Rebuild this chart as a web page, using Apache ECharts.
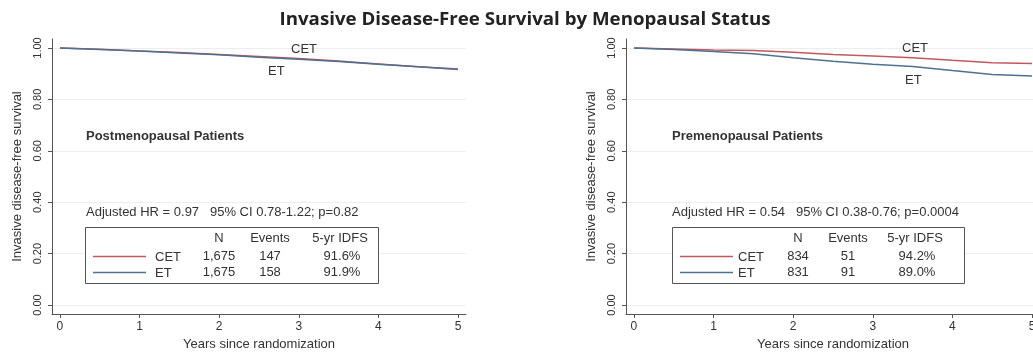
<!DOCTYPE html>
<html><head><meta charset="utf-8">
<script src="https://cdn.jsdelivr.net/npm/echarts@6/dist/echarts.min.js"></script>
<style>html,body{margin:0;padding:0;background:#fff}#c{width:1033px;height:352px}</style>
</head><body><div id="c"></div>
<script>
// ---- data ----
const titleText = 'Invasive Disease-Free Survival by Menopausal Status';
const years = [0, 0.5, 1, 1.5, 2, 2.5, 3, 3.5, 4, 4.5, 5];
const postCET = [1.000, 0.995, 0.988, 0.982, 0.975, 0.967, 0.959, 0.949, 0.938, 0.927, 0.916];
const postET  = [1.000, 0.994, 0.988, 0.981, 0.974, 0.964, 0.956, 0.947, 0.937, 0.927, 0.918];
const preCET  = [1.000, 0.996, 0.992, 0.990, 0.983, 0.975, 0.969, 0.962, 0.952, 0.943, 0.940];
const preET   = [1.000, 0.994, 0.986, 0.978, 0.962, 0.948, 0.937, 0.928, 0.912, 0.897, 0.891];
const xTicks = [0, 1, 2, 3, 4, 5];
const yTicks = [0, 0.2, 0.4, 0.6, 0.8, 1.0];
const groups = ['CET', 'ET'];
const colHeads = ['N', 'Events', '5-yr IDFS'];
const postN = ['1,675', '1,675'];
const postEvents = ['147', '158'];
const postIDFS = ['91.6%', '91.9%'];
const preN = ['834', '831'];
const preEvents = ['51', '91'];
const preIDFS = ['94.2%', '89.0%'];
const postLabel = 'Postmenopausal Patients';
const preLabel = 'Premenopausal Patients';
const postHR = 'Adjusted HR = 0.97   95% CI 0.78-1.22; p=0.82';
const preHR = 'Adjusted HR = 0.54   95% CI 0.38-0.76; p=0.0004';
const xName = 'Years since randomization';
const yName = 'Invasive disease-free survival';

// ---- styles ----
const FONT = '"Liberation Sans", Arial, sans-serif';
const TXT = '#333';
const CET_COLOR = '#c2585f';
const ET_COLOR = '#4e718e';

const chart = echarts.init(document.getElementById('c'), null, {renderer: 'canvas'});

function xAxis(i, min, max) {
  return {
    type: 'value', gridIndex: i, min, max,
    name: xName, nameLocation: 'middle', nameGap: 21,
    nameTextStyle: {fontFamily: FONT, fontSize: 13, color: TXT},
    axisLine: {show: true, onZero: false, lineStyle: {color: '#555', width: 1}},
    axisTick: {show: true, length: 4, lineStyle: {color: '#555'}, customValues: xTicks},
    axisLabel: {fontFamily: FONT, fontSize: 12, color: TXT, margin: 7, customValues: xTicks,
      showMaxLabel: true, formatter: v => String(Math.round(v))},
    splitLine: {show: false}
  };
}
function yAxis(i) {
  return {
    type: 'value', gridIndex: i, min: -0.035, max: 1.035,
    name: yName, nameLocation: 'middle', nameGap: 28, nameRotate: 90,
    nameTextStyle: {fontFamily: FONT, fontSize: 13, color: TXT},
    axisLine: {show: true, onZero: false, lineStyle: {color: '#555', width: 1}},
    axisTick: {show: true, length: 4, lineStyle: {color: '#555'}, customValues: yTicks},
    axisLabel: {fontFamily: FONT, fontSize: 11, color: TXT, margin: 9, rotate: 90, customValues: yTicks,
      formatter: v => v.toFixed(2)},
    splitLine: {show: true, lineStyle: {color: '#ededed', width: 1}}
  };
}
function line(name, data, xi, color) {
  return {
    type: 'line', name, xAxisIndex: xi, yAxisIndex: xi, showSymbol: false, symbol: 'none',
    data: years.map((x, k) => [x, data[k]]),
    lineStyle: {color, width: 1.5}, itemStyle: {color}, silent: true, z: 3
  };
}

function text(x, y, str, opt) {
  return {
    type: 'text', x, y, z: 20,
    style: Object.assign({text: str, fill: TXT, font: '13px ' + FONT, textVerticalAlign: 'middle'}, opt || {})
  };
}

function panelGraphics(p) {
  const g = [];
  g.push(text(p.labelX, 136, p.label, {font: 'bold 13px ' + FONT}));
  g.push(text(p.labelX, 212, p.hr));
  g.push({type: 'rect', z: 15, shape: {x: p.bx + 0.5, y: 227.5, width: p.bw, height: 56},
    style: {fill: '#fff', stroke: '#555', lineWidth: 1}});
  const cols = p.cols.map(c => p.bx + c);
  colHeads.forEach((h, k) => g.push(text(cols[k], 238, h, {textAlign: 'center'})));
  const colors = [CET_COLOR, ET_COLOR];
  const rowsY = [256, 272];
  groups.forEach((grp, r) => {
    g.push({type: 'line', z: 20, shape: {x1: p.bx + 8, y1: rowsY[r] + 0.5, x2: p.bx + 61, y2: rowsY[r] + 0.5},
      style: {stroke: colors[r], lineWidth: 1.5}});
    g.push(text(p.bx + p.grpX, rowsY[r] + 1, grp));
    g.push(text(cols[0], rowsY[r], p.n[r], {textAlign: 'center'}));
    g.push(text(cols[1], rowsY[r], p.ev[r], {textAlign: 'center'}));
    g.push(text(cols[2] + 2, rowsY[r], p.idfs[r], {textAlign: 'center'}));
  });
  g.push(text(p.cetX, p.cetY, 'CET'));
  g.push(text(p.etX, p.etY, 'ET'));
  return g;
}

const graphics = [
  {type: 'text', x: 525, y: 20, z: 20, scaleX: 1.1, originX: 0, originY: 0,
    style: {text: titleText, fill: '#222', textAlign: 'center', textVerticalAlign: 'middle',
      font: 'bold 17px "Open Sans", "Liberation Sans", sans-serif'}},
  ...panelGraphics({labelX: 86, label: postLabel, hr: postHR, bx: 85, bw: 293, cols: [134, 185, 255], grpX: 70,
    n: postN, ev: postEvents, idfs: postIDFS, cetX: 291, cetY: 49, etX: 268, etY: 71}),
  ...panelGraphics({labelX: 672, label: preLabel, hr: preHR, bx: 672, bw: 292, cols: [126, 176, 243], grpX: 66,
    n: preN, ev: preEvents, idfs: preIDFS, cetX: 902, cetY: 48, etX: 905, etY: 80})
];

chart.setOption({
  animation: false,
  backgroundColor: '#fff',
  grid: [
    {left: 52, top: 39, width: 414, height: 275, containLabel: false, outerBoundsMode: 'none'},
    {left: 626, top: 39, width: 414, height: 275, containLabel: false, outerBoundsMode: 'none'}
  ],
  xAxis: [xAxis(0, -0.1, 5.1), xAxis(1, -0.1, 5.1)],
  yAxis: [yAxis(0), yAxis(1)],
  series: [
    line('CET', postCET, 0, CET_COLOR),
    line('ET', postET, 0, ET_COLOR),
    line('CET', preCET, 1, CET_COLOR),
    line('ET', preET, 1, ET_COLOR)
  ],
  graphic: graphics
});
</script></body></html>
